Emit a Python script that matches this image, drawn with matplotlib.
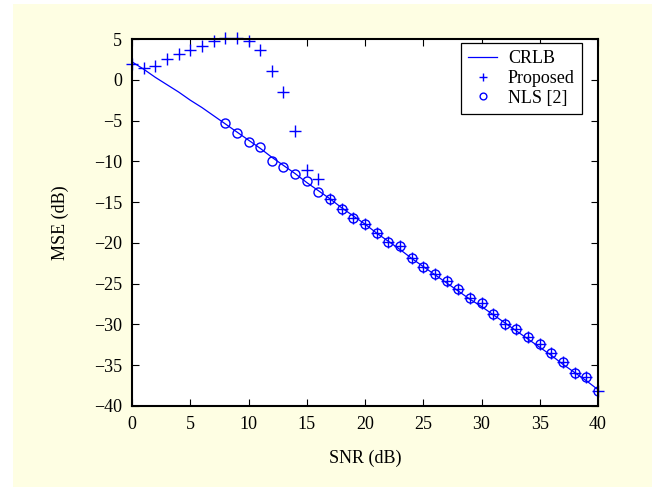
import matplotlib
matplotlib.use("Agg")
import matplotlib.pyplot as plt
from matplotlib.patches import Rectangle

# --- values --------------------------------------------------------------- #
SNR_CRLB = list(range(0, 41))
CRLB = [2.2, 1.3, 0.3, -0.6, -1.5, -2.5, -3.4, -4.4, -5.4, -6.4,
        -7.4, -8.4, -9.5, -10.5, -11.5, -12.6, -13.6, -14.6, -15.7, -16.7,
        -17.7, -18.8, -19.8, -20.8, -21.9, -22.9, -23.9, -24.9, -25.9, -26.9,
        -27.8, -28.8, -29.8, -30.8, -31.8, -32.8, -33.8, -34.9, -35.9, -36.9,
        -38.0]

SNR_PROP = list(range(0, 41))
PROPOSED = [1.9, 1.5, 1.7, 2.5, 3.1, 3.6, 4.1, 4.75, 5.1, 5.1,
            4.8, 3.6, 1.1, -1.5, -6.3, -11.05, -12.2, -14.6, -15.9, -16.9,
            -17.7, -18.8, -19.9, -20.4, -21.9, -22.9, -23.8, -24.7, -25.6, -26.8,
            -27.35, -28.75, -29.9, -30.6, -31.6, -32.4, -33.5, -34.6, -35.9, -36.4,
            -38.1]

SNR_NLS = list(range(8, 41))
NLS = [-5.35, -6.55, -7.6, -8.2, -9.95, -10.65, -11.5, -12.4, -13.8, -14.6,
       -15.9, -16.9, -17.7, -18.8, -19.9, -20.4, -21.9, -22.9, -23.8, -24.7,
       -25.6, -26.8, -27.35, -28.75, -29.9, -30.6, -31.6, -32.4, -33.5, -34.6,
       -35.9, -36.4, -38.1]

XTICKS = [0, 5, 10, 15, 20, 25, 30, 35, 40]
YTICKS = [5, 0, -5, -10, -15, -20, -25, -30, -35, -40]

BLUE = "#0000ff"
PANEL = "#fefee3"


def main():
    plt.rcParams.update({"font.family": ["Liberation Serif", "DejaVu Serif"],
                         "font.size": 13})
    fig = plt.figure(figsize=(6.52, 4.87), dpi=100, facecolor="white")
    # pale yellow page panel behind the plot
    fig.patches.append(Rectangle((13 / 652, 0), 1, 1 - 4 / 487,
                                 transform=fig.transFigure, facecolor=PANEL,
                                 edgecolor="none", zorder=-10))
    ax = fig.add_axes([132 / 652, 1 - 406 / 487, 466 / 652, 367 / 487])
    ax.set_facecolor("white")

    ax.plot(SNR_CRLB, CRLB, "-", color=BLUE, lw=0.9, label="CRLB")
    ax.plot(SNR_PROP, PROPOSED, "+", color=BLUE, ms=8, mew=1.0,
            label="Proposed", clip_on=False)
    ax.plot(SNR_NLS, NLS, "o", color=BLUE, ms=6.5, mew=1.0, mfc="none",
            label="NLS [2]")

    ax.set_xlim(0, 40)
    ax.set_ylim(-40, 5)
    ax.set_xticks(XTICKS)
    ax.set_yticks(YTICKS)
    ax.tick_params(direction="in", top=True, right=True, length=5,
                   width=0.8, pad=7)
    for s in ax.spines.values():
        s.set_linewidth(1.5)

    ax.set_xlabel("SNR (dB)")
    ax.set_ylabel("MSE (dB)")
    ax.xaxis.label.set_va("center")
    ax.yaxis.label.set_va("center")
    ax.xaxis.set_label_coords(0.5, (406 - 458) / 367)
    ax.yaxis.set_label_coords((60 - 132) / 466, 0.5)

    leg = ax.legend(loc="upper right", bbox_to_anchor=(450 / 466, 363 / 367),
                    borderaxespad=0, fancybox=False, framealpha=1,
                    edgecolor="black", handlelength=1.6, handletextpad=0.6,
                    labelspacing=0.15, borderpad=0.4, markerscale=0.75)
    leg.get_frame().set_linewidth(0.9)

    fig.savefig("out.png", dpi=100)


if __name__ == "__main__":
    main()
